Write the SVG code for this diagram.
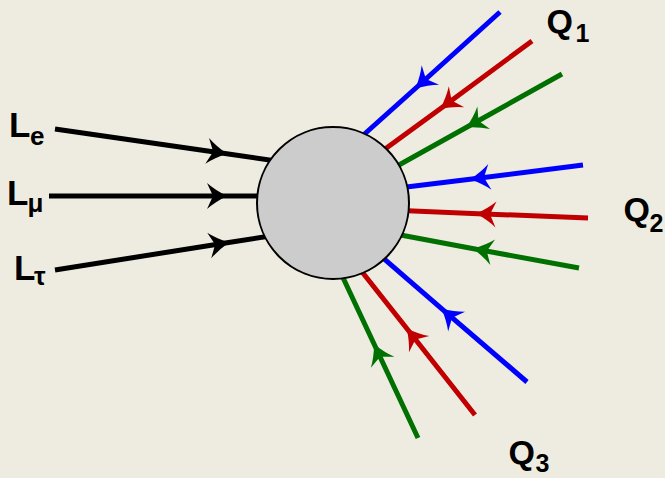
<svg xmlns="http://www.w3.org/2000/svg" width="665" height="478" viewBox="0 0 665 478">
<style>
  .lbl { font-family: "Liberation Sans", Arial, sans-serif; font-weight: bold; fill: #000; }
  .ln { fill: none; stroke-width: 5; stroke-linecap: butt; }
  .k { stroke: #000; marker-mid: url(#ak); }
  .b { stroke: #0000ff; marker-mid: url(#ab); }
  .r { stroke: #c00000; marker-mid: url(#ar); }
  .g { stroke: #007000; marker-mid: url(#ag); }
</style>
<defs>
  <path id="head" d="M2,0 Q-10,-6 -18,-13 L-12,0 L-18,13 Q-10,6 2,0 Z"/>
  <marker id="ak" markerUnits="userSpaceOnUse" orient="auto" refX="0" refY="0" markerWidth="30" markerHeight="30" overflow="visible">
    <use href="#head" fill="#000"/>
  </marker>
  <marker id="ab" markerUnits="userSpaceOnUse" orient="auto" refX="0" refY="0" markerWidth="30" markerHeight="30" overflow="visible">
    <use href="#head" fill="#0000ff"/>
  </marker>
  <marker id="ar" markerUnits="userSpaceOnUse" orient="auto" refX="0" refY="0" markerWidth="30" markerHeight="30" overflow="visible">
    <use href="#head" fill="#c00000"/>
  </marker>
  <marker id="ag" markerUnits="userSpaceOnUse" orient="auto" refX="0" refY="0" markerWidth="30" markerHeight="30" overflow="visible">
    <use href="#head" fill="#007000"/>
  </marker>
</defs>
<rect width="665" height="478" fill="#eeece1"/>
<g id="connectors">
  <path class="ln k" d="M55,129 L225,153.5 L290,163"/>
  <path class="ln k" d="M49,196 L225,196 L290,196"/>
  <path class="ln k" d="M55,270 L227,242.7 L290,233"/>
  <path class="ln b" d="M500,12 L417,87 L350,147"/>
  <path class="ln r" d="M532,41 L442,107.5 L370,160"/>
  <path class="ln g" d="M562,74 L468,126.5 L390,170"/>
  <path class="ln b" d="M583,165 L472,179 L390,189"/>
  <path class="ln r" d="M588,218 L478,213.7 L390,210"/>
  <path class="ln g" d="M579,268 L475,249 L390,233"/>
  <path class="ln b" d="M527,382 L443,309.8 L375,251"/>
  <path class="ln r" d="M475,415 L408,330 L355,263"/>
  <path class="ln g" d="M418,438 L375,346 L338,267"/>
</g>
<g id="vertex">
  <circle cx="333" cy="203" r="76" fill="#cccccc" stroke="#000" stroke-width="2"/>
</g>
<g id="label-Le">
  <text class="lbl" x="9" y="137" font-size="35">L<tspan x="30" y="145" font-size="26">e</tspan></text>
</g>
<g id="label-Lmu">
  <text class="lbl" x="7" y="205" font-size="35">L<tspan x="27.5" y="212" font-size="26">μ</tspan></text>
</g>
<g id="label-Ltau">
  <text class="lbl" x="14" y="280" font-size="35">L<tspan x="34" y="285" font-size="26">τ</tspan></text>
</g>
<g id="label-Q1">
  <text class="lbl" x="546.5" y="33" font-size="34">Q<tspan x="575.5" y="42" font-size="25">1</tspan></text>
</g>
<g id="label-Q2">
  <text class="lbl" x="623.5" y="221" font-size="34">Q<tspan x="649.5" y="232" font-size="25">2</tspan></text>
</g>
<g id="label-Q3">
  <text class="lbl" x="508.5" y="464" font-size="34">Q<tspan x="535.5" y="472" font-size="25">3</tspan></text>
</g>
</svg>
